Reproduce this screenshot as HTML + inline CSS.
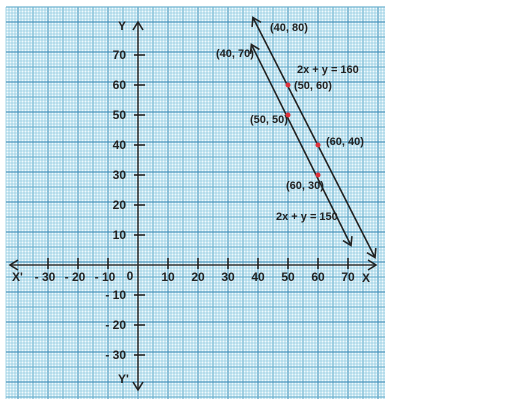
<!DOCTYPE html>
<html><head><meta charset="utf-8"><style>
html,body{margin:0;padding:0;background:#fff;}
svg{display:block;font-family:"Liberation Sans",sans-serif;}
</style></head><body>
<svg id="chart" width="527" height="407" viewBox="0 0 527 407" xmlns="http://www.w3.org/2000/svg">
<defs><marker id="ah" markerWidth="12" markerHeight="12" refX="9" refY="6" orient="auto-start-reverse" markerUnits="userSpaceOnUse"><path d="M1,1 L9,6 L1,11" fill="none" stroke="#222" stroke-width="1.6"/></marker></defs>
<rect x="6" y="7" width="379" height="392" fill="#f2fafd"/>
<g id="grid"></g>
<g id="axes"></g>
<g id="series"></g>
</svg>
<script>
const xTicks=[-30,-20,-10,10,20,30,40,50,60,70];
const yTicks=[-30,-20,-10,10,20,30,40,50,60,70];
const line160=[[38.3,82.5],[79,2.5]];
const line150=[[37.8,73.5],[71,6.5]];
const points160=[[50,60],[60,40]];
const points150=[[50,50],[60,30]];
const pointLabels=[["(40, 80)",40,80,12,6],["(40, 70)",40,70,-42,2],["(50, 60)",50,60,6,4],["(50, 50)",50,50,-38,8],["(60, 40)",60,40,8,0],["(60, 30)",60,30,-32,14]];
const eqLabels=[["2x + y = 160",53,64],["2x + y = 150",46,15]];
const ox=138,oy=265,s=3.0;
const X=v=>ox+v*s, Y=v=>oy-v*s;
const NS="http://www.w3.org/2000/svg";
function mk(tag,attrs,parent){const e=document.createElementNS(NS,tag);for(const k in attrs)e.setAttribute(k,attrs[k]);parent.appendChild(e);return e;}
const grid=document.getElementById('grid');
for(let x=6;x<=385;x+=3){const k=Math.round((x-6)/3);
 const ln=mk('line',{x1:x,y1:7,x2:x,y2:399,stroke:k%10==4?'#4a94bc':(k%5==4?'#6fb3d0':'#8fcbe0'),'stroke-width':k%5==4?1.2:0.8},grid);
 
 }
for(let y=7;y<=399;y+=3){const k=Math.round((y-7)/3);
 const ln=mk('line',{x1:6,y1:y,x2:385,y2:y,stroke:k%10==5?'#4a94bc':(k%5==0?'#6fb3d0':'#8fcbe0'),'stroke-width':k%5==0?1.2:0.8},grid);
 
 }
const axes=document.getElementById('axes');
const xa=mk('line',{x1:10,y1:oy,x2:376,y2:oy,stroke:'#333','stroke-width':1.6,'marker-end':'url(#ah)','marker-start':'url(#ah)'},axes);

const ya=mk('line',{x1:ox,y1:22,x2:ox,y2:390,stroke:'#333','stroke-width':1.6,'marker-end':'url(#ah)','marker-start':'url(#ah)'},axes);

const T=(txt,x,y,anchor,name,size)=>{const t=mk('text',{x:x,y:y,'text-anchor':anchor||'start','font-size':size||12,'font-weight':'bold',fill:'#222'},axes);t.textContent=txt;return t;};
xTicks.forEach(v=>{const l=mk('line',{x1:X(v),y1:oy-7,x2:X(v),y2:oy+4,stroke:'#222','stroke-width':1.6},axes);
 
 T(v<0?'- '+(-v):String(v),X(v)-(v<0?3:0),oy+16,'middle','x-tick-label');});
yTicks.forEach(v=>{const l=mk('line',{x1:ox-4,y1:Y(v),x2:ox+7,y2:Y(v),stroke:'#222','stroke-width':1.6},axes);
 
 T(v<0?'- '+(-v):String(v),ox-12,Y(v)+4,'end','y-tick-label');});
T('0',130,280,'middle','origin-label');
T("X'",12,281,'start','x-prime-label');
T('X',362,282,'start','x-axis-label');
T('Y',118,30,'start','y-axis-label');
T("Y'",118,383,'start','y-prime-label');
const ser=document.getElementById('series');
[[line160,'line-2x-y-160'],[line150,'line-2x-y-150']].forEach(([p,n])=>{
 const l=mk('line',{x1:X(p[0][0]),y1:Y(p[0][1]),x2:X(p[1][0]),y2:Y(p[1][1]),stroke:'#222','stroke-width':1.6,'marker-end':'url(#ah)','marker-start':'url(#ah)'},ser);
 });
points160.concat(points150).forEach(p=>{const c=mk('circle',{cx:X(p[0]),cy:Y(p[1]),r:2.5,fill:'#e0303a'},ser);
 });
pointLabels.forEach(([t,x,y,dx,dy])=>{T(t,X(x)+dx,Y(y)+dy,'start','point-label',11);});
eqLabels.forEach(([t,x,y])=>{T(t,X(x),Y(y),'start','equation-label',11);});
</script>
</body></html>
